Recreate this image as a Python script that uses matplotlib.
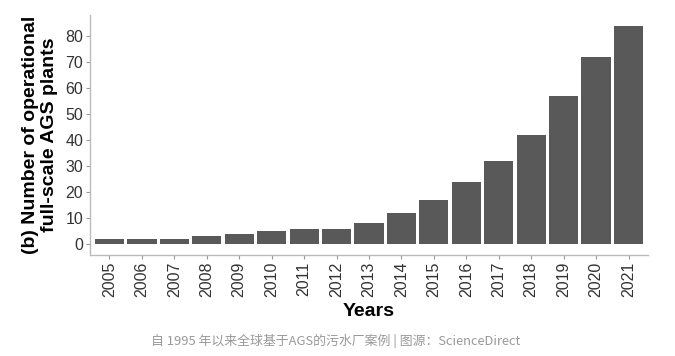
import matplotlib
matplotlib.use("Agg")
import matplotlib.pyplot as plt
import numpy as np

years = [str(y) for y in range(2005, 2022)]
plants = [2, 2, 2, 3, 4, 5, 6, 6, 8, 12, 17, 24, 32, 42, 57, 72, 84]
yticks = [0, 10, 20, 30, 40, 50, 60, 70, 80]

plt.rcParams['font.family'] = ['Liberation Sans', 'DejaVu Sans']

fig = plt.figure(figsize=(6.75, 3.56), dpi=100)
ax = fig.add_axes([90 / 675, 101 / 356, 558 / 675, 240 / 356])

x = np.arange(len(years))
ax.bar(x, plants, width=0.9, color='#595959')

ax.set_xlim(-0.6, len(years) - 0.4)
ax.set_ylim(-4.2, 88.2)
ax.set_xticks(x)
ax.set_xticklabels(years, rotation=90, fontsize=11.5, color='#333333')
ax.set_yticks(yticks)
ax.set_yticklabels([str(v) for v in yticks], fontsize=11.5, color='#333333')
ax.tick_params(axis='both', color='#999999', length=3, width=0.8, pad=2)

for s in ['top', 'right']:
    ax.spines[s].set_visible(False)
for s in ['left', 'bottom']:
    ax.spines[s].set_color('#bbbbbb')
    ax.spines[s].set_linewidth(1.0)

ax.set_ylabel("(b) Number of operational\nfull-scale AGS plants",
              fontsize=14, fontweight='bold', linespacing=1.2, labelpad=5)
ax.set_xlabel("Years", fontsize=14, fontweight='bold', labelpad=4)

fig.text(0.497, 1 - 341 / 356, "自 1995 年以来全球基于AGS的污水厂案例 | 图源：ScienceDirect",
         ha='center', va='center', fontsize=9.3, color='#999999',
         family=['Noto Sans CJK SC', 'DejaVu Sans'])

fig.savefig("out.png", dpi=100)
